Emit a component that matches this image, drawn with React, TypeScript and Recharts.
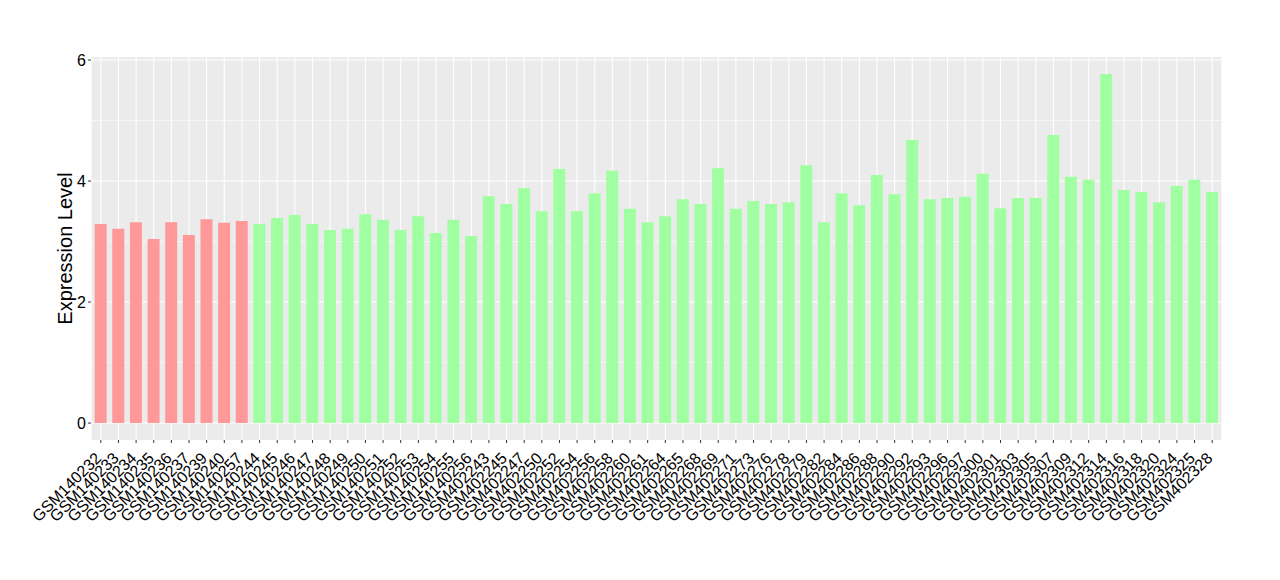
import React from 'react';
import { BarChart, Bar, XAxis, YAxis, CartesianGrid, Cell, Label } from 'recharts';

const samples = [
  'GSM140232', 'GSM140233', 'GSM140234', 'GSM140235', 'GSM140236', 'GSM140237', 'GSM140239', 'GSM140240', 'GSM140257',
  'GSM140244', 'GSM140245', 'GSM140246', 'GSM140247', 'GSM140248', 'GSM140249', 'GSM140250', 'GSM140251', 'GSM140252',
  'GSM140253', 'GSM140254', 'GSM140255', 'GSM140256',
  'GSM402243', 'GSM402245', 'GSM402247', 'GSM402250', 'GSM402252', 'GSM402254', 'GSM402256', 'GSM402258', 'GSM402260',
  'GSM402261', 'GSM402264', 'GSM402265', 'GSM402268', 'GSM402269', 'GSM402271', 'GSM402273', 'GSM402276', 'GSM402278',
  'GSM402279', 'GSM402282', 'GSM402284', 'GSM402286', 'GSM402288', 'GSM402290', 'GSM402292', 'GSM402293', 'GSM402296',
  'GSM402297', 'GSM402300', 'GSM402301', 'GSM402303', 'GSM402305', 'GSM402307', 'GSM402309', 'GSM402312', 'GSM402314',
  'GSM402316', 'GSM402318', 'GSM402320', 'GSM402324', 'GSM402325', 'GSM402328',
];

const expression = [
  3.29, 3.21, 3.32, 3.04, 3.32, 3.11, 3.37, 3.31, 3.34,
  3.29, 3.39, 3.44, 3.29, 3.19, 3.21, 3.45, 3.36, 3.19,
  3.42, 3.14, 3.36, 3.09,
  3.75, 3.62, 3.88, 3.50, 4.20, 3.50, 3.80, 4.17, 3.54,
  3.32, 3.42, 3.70, 3.62, 4.21, 3.54, 3.67, 3.62, 3.65,
  4.26, 3.32, 3.80, 3.60, 4.10, 3.78, 4.68, 3.70, 3.72,
  3.74, 4.12, 3.55, 3.72, 3.72, 4.76, 4.07, 4.02, 5.77,
  3.85, 3.82, 3.65, 3.92, 4.02, 3.82,
];

// first 9 samples are the control group (red), rest are green
const groups = samples.map((_, i) => (i < 9 ? 'control' : 'case'));
const groupColors: Record<string, string> = { control: '#FF9898', case: '#A0FFA0' };

const yTicks = [0, 2, 4, 6];
const yMinor = [1, 3, 5];

const data = samples.map((name, i) => ({ name, value: expression[i], group: groups[i] }));

const FONT = '"Liberation Sans", Arial, Helvetica, sans-serif';

const XTick = (props: any) => {
  const { x, y, payload } = props;
  return (
    <g transform={`translate(${x},${y})`}>
      <text
        x={0}
        y={0}
        dy={11}
        dx={-9}
        textAnchor="end"
        transform="rotate(-45)"
        fill="#000"
        fontSize={16}
        fontFamily={FONT}
      >
        {payload.value}
      </text>
    </g>
  );
};

export default function App() {
  return (
    <div style={{ position: 'absolute', left: 0, top: 0, width: 1280, height: 580, background: '#fff' }}>
      <BarChart
        width={1280}
        height={580}
        data={data}
        margin={{ top: 57, right: 58, bottom: 0, left: 38 }}
        barCategoryGap="15%"
      >
        <CartesianGrid fill="#EBEBEB" stroke="#fff" strokeWidth={0.55} vertical={false} horizontalValues={yMinor} />
        <CartesianGrid stroke="#fff" strokeWidth={1.1} horizontalValues={yTicks} fill="none" />
        <XAxis
          dataKey="name"
          interval={0}
          height={140}
          padding={{ left: 1, right: 1 }}
          axisLine={false}
          tickLine={{ stroke: '#333333' }}
          tickSize={3}
          tick={<XTick />}
        />
        <YAxis
          width={53}
          domain={[-0.28, 6.05]}
          ticks={yTicks}
          allowDataOverflow
          axisLine={false}
          tickLine={{ stroke: '#333333' }}
          tickSize={3}
          tickMargin={2}
          tick={{ fill: '#000', fontSize: 16, fontFamily: FONT }}
        >
          <Label
            value="Expression Level"
            angle={-90}
            position="center"
            style={{ fontSize: 20, fill: '#000', fontFamily: FONT }}
          />
        </YAxis>
        <Bar dataKey="value" isAnimationActive={false}>
          {data.map((d, i) => (
            <Cell key={`c-${i}`} fill={groupColors[d.group]} />
          ))}
        </Bar>
      </BarChart>
    </div>
  );
}
